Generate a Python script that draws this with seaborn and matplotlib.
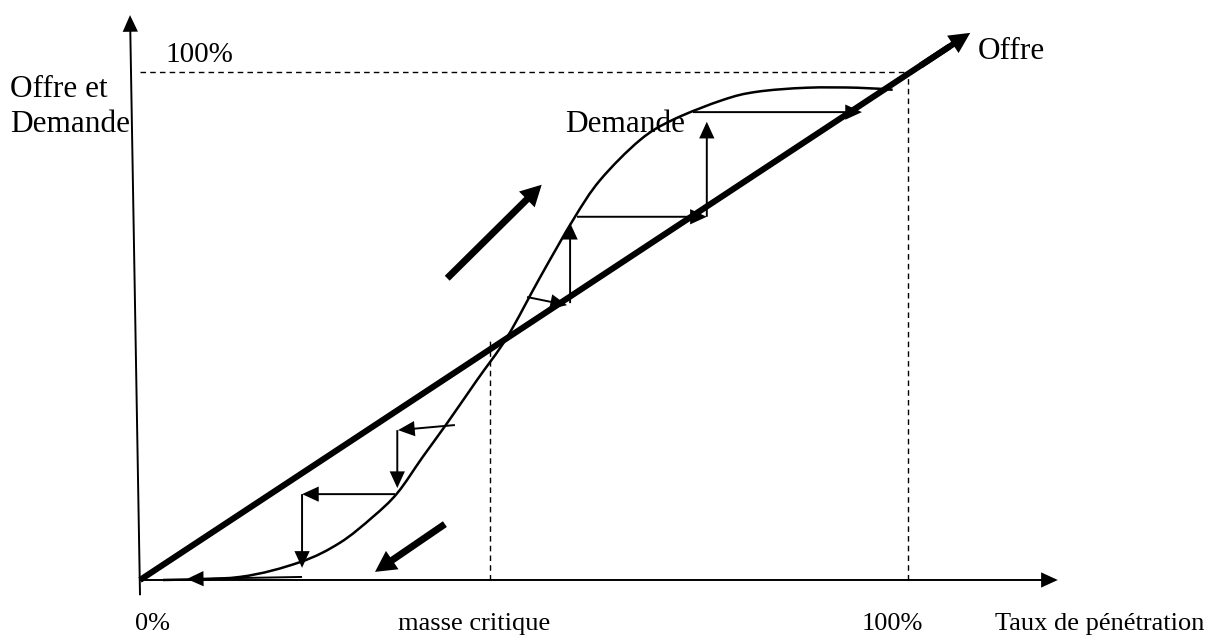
import numpy as np
import pandas as pd
import matplotlib
matplotlib.use("Agg")
import matplotlib.pyplot as plt
from matplotlib.path import Path
from matplotlib.patches import PathPatch
import seaborn as sns

# penetration rate (x) vs offer / demand (y), both as fractions of 100%
offre_x = [0.0, 1.081]
offre_y = [0.0, 1.077]

# S-shaped demand curve
demande_x = [0.030, 0.130, 0.208, 0.260, 0.303, 0.335, 0.368, 0.400, 0.439,
             0.478, 0.521, 0.564, 0.599, 0.651, 0.694, 0.759, 0.803, 0.868,
             0.934, 0.980]
demande_y = [0.000, 0.006, 0.035, 0.073, 0.124, 0.171, 0.242, 0.309, 0.394,
             0.478, 0.596, 0.709, 0.787, 0.866, 0.906, 0.945, 0.961, 0.969,
             0.969, 0.965]

masse_critique = 0.456
point_critique = 0.472

# cobweb steps (start x, start y, end x, end y)
cobweb_haut = [
    (0.504, 0.557, 0.556, 0.541),
    (0.560, 0.545, 0.560, 0.703),
    (0.569, 0.715, 0.738, 0.715),
    (0.738, 0.715, 0.738, 0.902),
    (0.720, 0.921, 0.940, 0.921),
]
cobweb_bas = [
    (0.410, 0.305, 0.336, 0.295),
    (0.335, 0.295, 0.335, 0.181),
    (0.332, 0.169, 0.211, 0.169),
    (0.211, 0.169, 0.211, 0.024),
    (0.211, 0.006, 0.061, 0.002),
]
# big direction arrows
fleche_haut = (0.400, 0.594, 0.523, 0.778)
fleche_bas = (0.397, 0.110, 0.306, 0.016)

x_labels = ["0%", "masse critique", "100%", "Taux de pénétration"]
x_label_pos = [-0.007, 0.336, 0.940, 1.113]

sns.set_theme(style="white")
plt.rcParams["font.family"] = ["Liberation Serif", "DejaVu Serif"]
plt.rcParams["text.color"] = "black"

fig = plt.figure(figsize=(12.11, 6.41), dpi=100)
ax = fig.add_axes([0, 0, 1, 1])
ax.set_xlim(-0.1823, 1.3945)
ax.set_ylim(-0.1201, 1.1417)
ax.axis("off")


def arrow(x0, y0, x1, y1, width=1.4, hw=11, hl=12):
    ax.annotate("", xy=(x1, y1), xytext=(x0, y0),
                arrowprops=dict(width=width, headwidth=hw, headlength=hl,
                                shrink=0, facecolor="black", edgecolor="none"))


# axes
arrow(0, 0, 1.195, 0, width=1.4, hw=11, hl=12)
arrow(0, -0.03, -0.013, 1.112, width=1.4, hw=11, hl=12)

# dashed guides
dash = (0, (4, 3))
ax.plot([0, 1.0], [1.0, 1.0], ls=dash, color="black", lw=1.0)
ax.plot([1.0, 1.0], [0, 1.0], ls=dash, color="black", lw=1.0)
ax.plot([masse_critique, masse_critique], [0, point_critique], ls=dash,
        color="black", lw=1.0)

# offer line + arrow head
df_offre = pd.DataFrame({"x": offre_x, "y": offre_y})
df_offre.loc[1] = df_offre.loc[1] * 0.975
sns.lineplot(data=df_offre, x="x", y="y", ax=ax, color="black", lw=4.4,
             sort=False, solid_capstyle="butt")
arrow(offre_x[1] * 0.94, offre_y[1] * 0.94, offre_x[1], offre_y[1],
      width=4.4, hw=15, hl=15)

# demand curve: smooth cubic path through the read points
pts = np.column_stack([demande_x, demande_y])
ext = np.vstack([pts[0], pts, pts[-1]])
verts = [tuple(pts[0])]
codes = [Path.MOVETO]
for i in range(len(pts) - 1):
    p0, p1, p2, p3 = ext[i], ext[i + 1], ext[i + 2], ext[i + 3]
    verts += [tuple(p1 + (p2 - p0) / 6), tuple(p2 - (p3 - p1) / 6), tuple(p2)]
    codes += [Path.CURVE4] * 3
ax.add_patch(PathPatch(Path(verts, codes), facecolor="none",
                       edgecolor="black", lw=1.8))

for x0, y0, x1, y1 in cobweb_haut + cobweb_bas:
    arrow(x0, y0, x1, y1, width=1.4, hw=11, hl=12)

arrow(*fleche_haut, width=5, hw=16, hl=15)
arrow(*fleche_bas, width=5, hw=16, hl=15)

# labels
ax.text(0.033, 1.033, "100%", fontsize=21, va="center", ha="left")
ax.text(-0.169, 0.965, "Offre et", fontsize=22.5, va="center", ha="left")
ax.text(-0.169, 0.896, "Demande", fontsize=22.5, va="center", ha="left")
ax.text(1.091, 1.041, "Offre", fontsize=22.5, va="center", ha="left")
ax.text(0.553, 0.896, "Demande", fontsize=22.5, va="center", ha="left")
for lab, xp in zip(x_labels, x_label_pos):
    ax.text(xp, -0.086, lab, fontsize=19, va="center", ha="left")

fig.savefig("out.png", dpi=100, facecolor="white")
